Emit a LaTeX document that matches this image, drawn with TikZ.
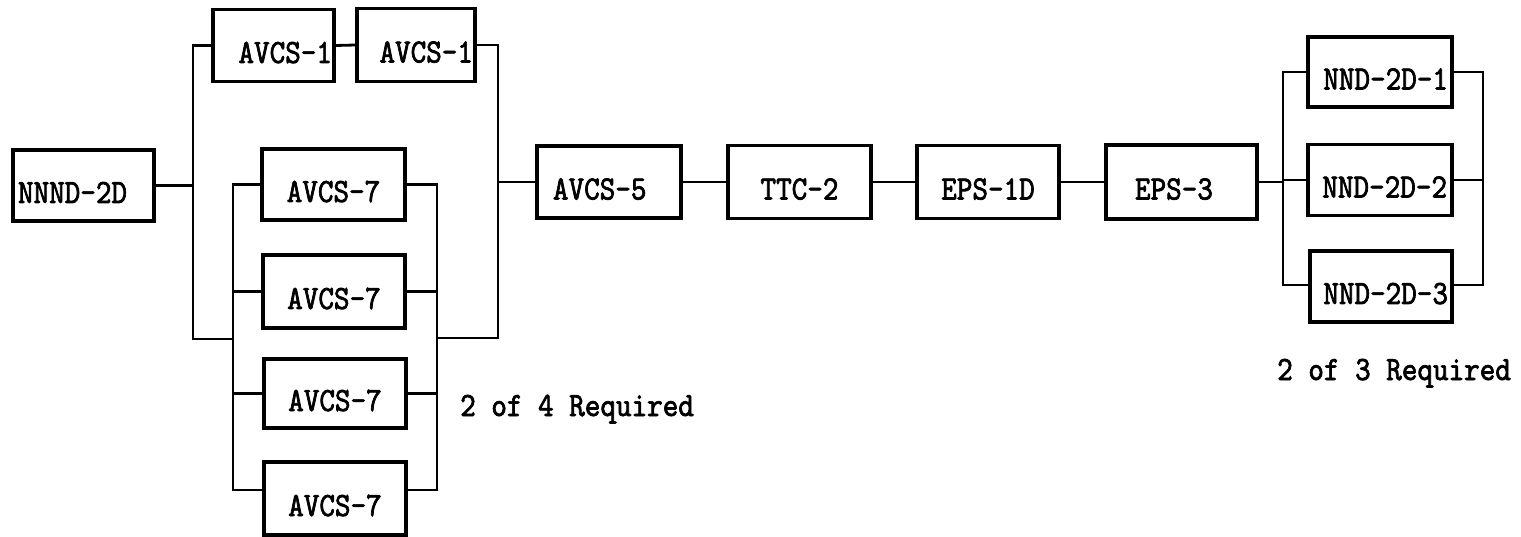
\documentclass[tikz,border=0pt]{standalone}
\usepackage{fontspec}
\newfontfamily\tw{lmmono10-regular.otf}[FakeBold=2,FakeStretch=0.873]
\begin{document}
\begin{tikzpicture}[x=1pt,y=-1pt,
  txt/.style={font=\tw\fontsize{34pt}{36pt}\selectfont},
  box/.style={txt, draw, line width=3.2pt, inner ysep=0pt, text height=35pt, text depth=0pt},
  lbl/.style={txt, inner sep=0pt},
  wire/.style={line width=2.8pt}]
\useasboundingbox (0,0) rectangle (1521,537);
% boxes
\node[box, minimum width=141pt, minimum height=71pt, inner xsep=5pt, text width=131pt, align=left] (nnnd) at (83.5,185.5) {NNND-2D};
\node[box, minimum width=121pt, minimum height=72pt, inner xsep=2pt, text width=117pt, align=right] (a1a) at (273.5,45.5) {AVCS-1};
\node[box, minimum width=118pt, minimum height=73pt, inner xsep=2pt, text width=114pt, align=right] (a1b) at (416,45) {AVCS-1};
\node[box, minimum width=143pt, minimum height=71pt] (a7a) at (333.5,184.5) {AVCS-7};
\node[box, minimum width=142pt, minimum height=73pt] (a7b) at (334,291.5) {AVCS-7};
\node[box, minimum width=142pt, minimum height=69pt] (a7c) at (335,393.5) {AVCS-7};
\node[box, minimum width=142pt, minimum height=73pt] (a7d) at (335,498.5) {AVCS-7};
\node[box, minimum width=144pt, minimum height=72pt, inner xsep=16pt, text width=112pt, align=left] (a5) at (609,182) {AVCS-5};
\node[box, minimum width=143pt, minimum height=73pt] (ttc) at (799.5,182) {TTC-2};
\node[box, minimum width=142pt, minimum height=73pt] (eps1d) at (988,182) {EPS-1D};
\node[box, minimum width=151pt, minimum height=74pt, inner xsep=29pt, text width=93pt, align=left] (eps3) at (1181.5,182) {EPS-3};
\node[box, minimum width=144pt, minimum height=70pt, inner xsep=4pt, text width=136pt, align=right] (n1) at (1380,72) {NND-2D-1};
\node[box, minimum width=144pt, minimum height=71pt, inner xsep=5pt, text width=134pt, align=right] (n2) at (1380,180) {NND-2D-2};
\node[box, minimum width=142pt, minimum height=71pt, inner xsep=4pt, text width=134pt, align=right] (n3) at (1381,286.5) {NND-2D-3};
% labels
\node[lbl, anchor=base west] (req4) at (460,416) {2 of 4 Required};
\node[lbl, anchor=base west] (req3) at (1277,380) {2 of 3 Required};
% bus coordinates
\coordinate (OL) at (193,185);
\coordinate (OLb) at (193,339);
\coordinate (IL) at (233,185);
\coordinate (ILb) at (233,339);
\coordinate (IR) at (437,185);
\coordinate (IRb) at (437,338);
\coordinate (OR) at (498,182);
\coordinate (ORb) at (498,338);
\coordinate (NL) at (1283,180);
\coordinate (NR) at (1483,180);
% left group
\draw[wire] (nnnd.east) -- (nnnd.east -| OL);
\draw[wire] (a1a.west) -- (a1a.west -| OL) -- (OLb) -- (ILb);
\draw[wire] (a1a.east) -- (a1b.west);
\draw[wire] (a1b.east) -- (a1b.east -| OR) -- (ORb) -- (IRb);
\draw[wire] (a7a.west) -- (a7a.west -| IL) -- ([yshift=8.5pt]a7d.west -| IL) -- ([yshift=8.5pt]a7d.west);
\draw[wire] (a7b.west) -- (a7b.west -| IL);
\draw[wire] (a7c.west) -- (a7c.west -| IL);
\draw[wire] (a7a.east) -- (a7a.east -| IR) -- ([yshift=8.5pt]a7d.east -| IR) -- ([yshift=8.5pt]a7d.east);
\draw[wire] (a7b.east) -- (a7b.east -| IR);
\draw[wire] (a7c.east) -- (a7c.east -| IR);
\draw[wire] (OR) -- (a5.west);
% chain
\draw[wire] (a5) -- (ttc);
\draw[wire] (ttc) -- (eps1d);
\draw[wire] (eps1d) -- (eps3);
% right group
\draw[wire] (eps3.east) -- (eps3.east -| NL);
\draw[wire] (n1.west) -- (n1.west -| NL) -- ([yshift=1.5pt]n3.west -| NL) -- ([yshift=1.5pt]n3.west);
\draw[wire] (n2.west) -- (n2.west -| NL);
\draw[wire] (n1.east) -- (n1.east -| NR) -- ([yshift=1.5pt]n3.east -| NR) -- ([yshift=1.5pt]n3.east);
\draw[wire] (n2.east) -- (n2.east -| NR);
\end{tikzpicture}
\end{document}
